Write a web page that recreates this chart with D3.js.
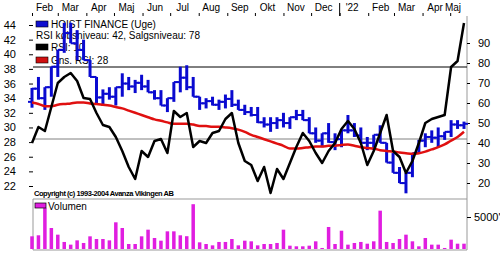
<!DOCTYPE html>
<html><head><meta charset="utf-8">
<script src="https://cdn.jsdelivr.net/npm/d3@7"></script>
<style>body{margin:0;background:#fff}svg{display:block}text{font-family:"Liberation Sans",Arial,sans-serif}</style>
</head><body><svg id="c" width="500" height="255"></svg>
<script>
const firstWeek = "2021-02-01";
const high  = [35.4,36.9,35.5,38.3,40.6,44.3,44.3,43.3,42.0,39.2,36.9,35.2,35.5,35.5,37.4,36.9,36.5,37.2,36.5,35.1,35.1,34.0,36.2,38.3,38.5,36.9,34.2,34.0,34.2,33.8,34.5,35.1,33.8,33.1,32.8,32.8,31.4,31.4,31.4,32.0,31.4,32.4,32.4,31.4,30.0,29.2,30.6,29.2,29.6,31.7,30.6,30.0,28.7,29.0,30.3,27.9,26.5,24.6,23.8,26.5,28.3,29.2,29.6,30.0,29.4,31.0,31.0,30.8];
const low   = [32.7,33.8,32.4,34.2,36.9,40.2,41.5,39.2,39.2,36.9,33.3,33.0,33.8,33.0,34.2,35.1,34.7,35.1,34.8,33.8,33.0,32.1,33.5,34.8,35.1,34.2,32.4,32.6,33.0,32.4,32.6,32.8,32.4,31.7,31.5,30.6,30.0,29.4,29.8,30.0,29.8,31.0,31.0,29.2,27.9,27.3,27.9,26.9,27.3,29.2,28.7,27.9,26.9,26.9,27.9,25.2,23.8,22.4,21.0,23.2,26.5,27.3,27.9,27.3,28.3,28.7,29.8,29.8];
const open  = [33.5,35.3,34.0,35.5,38.3,40.6,42.9,41.5,40.6,39.2,36.9,34.1,34.6,34.2,35.5,36.0,35.6,36.1,35.6,34.8,34.0,33.0,34.0,36.2,36.8,35.5,34.2,33.3,33.6,33.1,33.5,33.9,33.1,32.4,32.1,31.7,30.7,30.4,30.6,31.0,30.6,31.4,31.7,31.0,29.2,28.2,29.2,28.0,28.4,29.6,29.6,28.9,27.9,27.9,29.0,27.9,25.2,23.8,22.4,23.8,26.5,28.2,28.7,28.6,28.8,29.4,30.4,30.3];
const close = [35.3,34.0,35.5,38.3,40.6,42.9,41.5,40.6,39.2,36.9,34.1,34.6,34.2,35.5,36.0,35.6,36.1,35.6,34.8,34.0,33.0,34.0,36.2,36.8,35.5,34.2,33.3,33.6,33.1,33.5,33.9,33.1,32.4,32.1,31.7,30.7,30.4,30.6,31.0,30.6,31.4,31.7,31.0,29.2,28.2,29.2,28.0,28.4,29.6,29.6,28.9,27.9,27.9,29.0,27.9,25.2,23.8,22.4,23.8,26.5,28.2,28.7,28.6,28.8,29.4,30.4,30.3,30.5];
const rsi   = [40,48,46,58,70,73,75,71,62.5,62,55,49,48,43,36,28,22,36,33,41,42,35,56,53,55,38,41,40,45,46,52,55,40,31,29,21,28,15,27,22,30,38,45,41,35,30,36,40,47,51,47,40,29,36,45,54,36,33,25,31,40,50,52,53,54,78,81,100];
const rsiAvg = [60.2,59.5,58.4,58.4,59.1,59.5,59.8,60.2,60.2,59.8,59.5,59.1,58.7,58.0,57.3,56.2,55.1,54.0,52.9,51.8,51.1,50.3,49.6,49.6,49.6,49.2,48.5,48.5,48.1,48.1,47.8,47.4,46.7,45.6,44.1,43.0,41.9,40.8,39.7,38.6,37.2,37.2,37.5,37.9,38.2,38.2,38.6,38.6,39.0,39.3,38.6,37.9,37.5,37.2,36.4,36.0,35.7,35.3,34.9,34.6,34.9,35.7,36.8,37.9,39.3,41.2,43.0,45.6];
const volume = [1980,2140,6400,3280,2240,1100,680,1350,940,1980,1560,1560,1350,4170,3280,780,780,1980,3020,1720,1300,2760,2760,2140,2000,7000,1040,780,570,1100,1100,1560,570,1300,1200,570,780,780,940,3020,520,420,420,520,1200,160,3440,780,2860,680,940,1100,830,1200,5990,1100,940,1560,2240,1200,420,1720,680,680,160,1460,830,830];
const priceTicks = [22,24,26,28,30,32,34,36,38,40,42,44];
const rsiTicks = [20,30,40,50,60,70,80,90];
const volumeTicks = [5000];
const monthLabels = ["Feb","Mar","Apr","Maj","Jun","Jul","Aug","Sep","Okt","Nov","Dec","'22","Feb","Mar","Apr","Maj"];
const buyLevel = 42, sellLevel = 78;
const legendTexts = ["HOIST FINANCE (Uge)","RSI købsniveau: 42, Salgsniveau: 78","RSI: 10","Gns. RSI: 28"];
const copyright = "Copyright (c) 1993-2004 Avanza Vikingen AB";
const volumeLabel = "Volumen";

const svg = d3.select("#c");
svg.append("rect").attr("width",500).attr("height",255).attr("fill","#fff");
const L = 33, R = 467, T = 16, B = 199, VT = 199, VB = 250;
const start = d3.utcParse("%Y-%m-%d")(firstWeek);
const weeks = d3.utcMonday.range(start, d3.utcDay.offset(start, 7*high.length));
const x = d3.scaleUtc().domain([weeks[0], weeks[weeks.length-1]]).range([32, 464]);
const yP = d3.scaleLinear().domain([22,44]).range([186,25]);
const yR = d3.scaleLinear().domain([20,90]).range([183,43]);
const yV = d3.scaleLinear().domain([0,5000]).range([249,217]);

// legend (drawn under the data)
const leg = svg.append("g").attr("font-size",10).attr("fill","#000");
const swatch = [{c:"#1010d0",row:0},{c:"#000",row:2},{c:"#d01010",row:3}];
const rowY = [24,35,47,60];
swatch.forEach(s=>leg.append("rect").attr("x",36).attr("y",rowY[s.row]-3).attr("width",12).attr("height",6).attr("fill",s.c).attr("stroke","#000").attr("stroke-width",0.6));
legendTexts.forEach((t,i)=>leg.append("text").attr("x",i===1?36:51).attr("y",rowY[i]).attr("dy","0.35em").text(t));

// month axis
const months = d3.utcMonth.range(d3.utcMonth.floor(weeks[0]), d3.utcMonth.offset(d3.utcMonth.floor(weeks[weeks.length-1]),1));
const topAx = svg.append("g").attr("transform",`translate(0,${T})`)
  .call(d3.axisTop(x).tickValues(months).tickSize(3).tickSizeOuter(0).tickFormat(""));
topAx.select(".domain").remove();
topAx.selectAll(".tick line").attr("stroke","#000");
svg.append("line").attr("x1",x(months[11])).attr("x2",x(months[11])).attr("y1",3).attr("y2",T).attr("stroke","#000");
svg.append("g").attr("font-size",10).selectAll("text").data(months).join("text")
  .attr("x",d=>Math.min(x(d)+12.5,453)).attr("y",11).attr("text-anchor","middle").text((d,i)=>monthLabels[i]);

// frame
svg.append("line").attr("x1",L).attr("x2",R).attr("y1",B).attr("y2",B).attr("stroke","#999");
svg.append("line").attr("x1",R).attr("x2",R).attr("y1",T).attr("y2",VB).attr("stroke","#999");
svg.append("line").attr("x1",L).attr("x2",L).attr("y1",VT).attr("y2",VB).attr("stroke","#999");
svg.append("line").attr("x1",L).attr("x2",R).attr("y1",VB).attr("y2",VB).attr("stroke","#999");

// axes
const la = svg.append("g").attr("transform",`translate(${L},0)`).call(d3.axisLeft(yP).tickValues(priceTicks).tickSize(4).tickPadding(13));
la.select(".domain").remove();
const ra = svg.append("g").attr("transform",`translate(${R},0)`).call(d3.axisRight(yR).tickValues(rsiTicks).tickSize(3).tickPadding(8));
ra.select(".domain").remove();
const va = svg.append("g").attr("transform",`translate(${R},0)`).call(d3.axisRight(yV).tickValues(volumeTicks).tickSize(4).tickPadding(3).tickFormat(d=>d+"'"));
va.select(".domain").remove();
[la,ra,va].forEach(a=>{a.attr("font-size",11).attr("font-family","Liberation Sans, Arial, sans-serif");a.selectAll("text").attr("fill","#000");a.selectAll("line").attr("stroke","#000");});

// level lines
svg.append("line").attr("x1",L).attr("x2",R).attr("y1",yR(sellLevel)).attr("y2",yR(sellLevel)).attr("stroke","#000");
svg.append("line").attr("x1",L).attr("x2",R).attr("y1",yR(buyLevel)).attr("y2",yR(buyLevel)).attr("stroke","#808080");

// price bars
const bars = svg.append("g").attr("stroke","#0a0ad0").attr("fill","none");
weeks.forEach((d,i)=>{
  const cx = x(d);
  bars.append("line").attr("x1",cx).attr("x2",cx).attr("y1",yP(high[i])).attr("y2",yP(low[i])).attr("stroke-width",3);
  bars.append("line").attr("x1",cx-4).attr("x2",cx).attr("y1",yP(open[i])).attr("y2",yP(open[i])).attr("stroke-width",2);
  bars.append("line").attr("x1",cx).attr("x2",cx+4).attr("y1",yP(close[i])).attr("y2",yP(close[i])).attr("stroke-width",2);
});

// RSI average and RSI
svg.append("path").datum(rsiAvg).attr("fill","none").attr("stroke","#e01010").attr("stroke-width",2.5)
  .attr("d",d3.line().x((d,i)=>x(weeks[i])).y(d=>yR(d)).curve(d3.curveMonotoneX));
svg.append("path").datum(rsi).attr("fill","none").attr("stroke","#000").attr("stroke-width",2.5).attr("stroke-linejoin","round")
  .attr("d",d3.line().x((d,i)=>x(weeks[i])).y(d=>yR(d)));

svg.append("text").attr("x",34).attr("y",196).attr("font-size",7.5).attr("font-weight","bold")
  .attr("font-family","Liberation Serif, serif").attr("textLength",140).text(copyright);

// volume
svg.append("g").attr("fill","#e01ee0").selectAll("rect").data(volume).join("rect")
  .attr("x",(d,i)=>x(weeks[i])-1.75).attr("width",3.5).attr("y",d=>yV(d)).attr("height",d=>yV(0)-yV(d));
svg.append("rect").attr("x",35).attr("y",203).attr("width",11).attr("height",5).attr("fill","#e01ee0").attr("stroke","#000").attr("stroke-width",0.7);
svg.append("text").attr("x",48).attr("y",206).attr("dy","0.35em").attr("font-size",10).text(volumeLabel);
</script></body></html>
